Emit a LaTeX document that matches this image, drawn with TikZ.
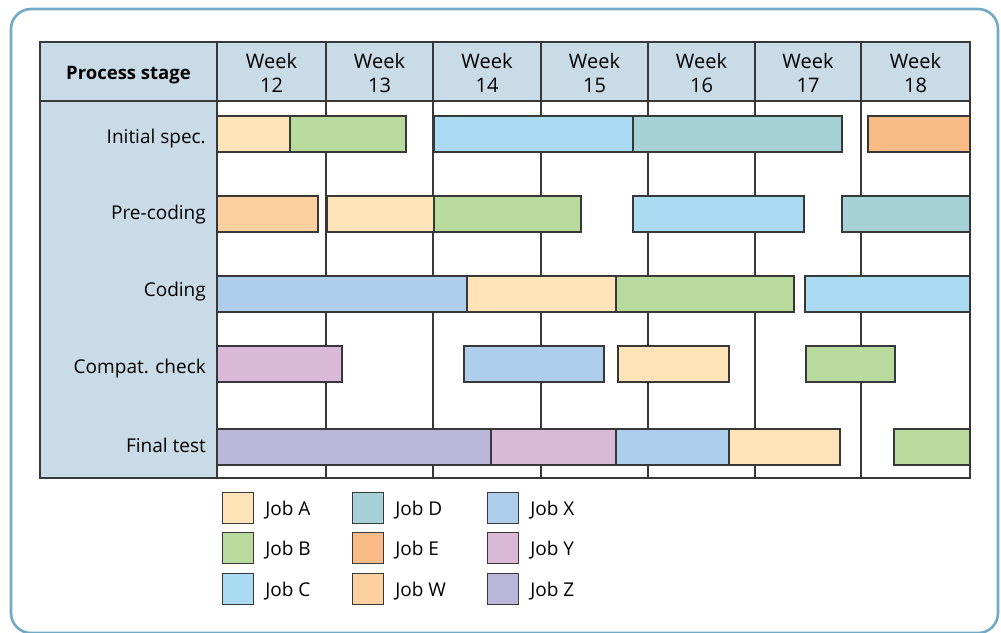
\documentclass[tikz,border=0pt]{standalone}
\usepackage{fontspec}
\setmainfont{Open Sans}
\usetikzlibrary{positioning}

\definecolor{framecol}{HTML}{72A9C4}
\definecolor{headfill}{HTML}{C9DBE6}
\definecolor{linegray}{HTML}{383838}
\definecolor{jobA}{HTML}{FEE3B9}
\definecolor{jobB}{HTML}{B8DB9D}
\definecolor{jobC}{HTML}{ABDAF3}
\definecolor{jobD}{HTML}{A5D1D7}
\definecolor{jobE}{HTML}{F9BB86}
\definecolor{jobW}{HTML}{FDD09F}
\definecolor{jobX}{HTML}{ADCDEB}
\definecolor{jobY}{HTML}{D9B8D8}
\definecolor{jobZ}{HTML}{BAB7DA}

\begin{document}
\begin{tikzpicture}[x=1pt,y=-1pt,
    jobbar/.style={draw=linegray,line width=1.3pt},
    gridline/.style={linegray,line width=1.3pt},
    weekhead/.style={align=center,inner sep=0pt,font=\fontsize{20}{24}\selectfont},
    stagelabel/.style={anchor=east,inner sep=0pt,font=\fontsize{19}{22}\selectfont},
    keybox/.style={draw=linegray,line width=1.3pt,minimum size=31pt,inner sep=0pt},
    keytext/.style={inner sep=0pt,yshift=-2pt,font=\fontsize{19}{22}\selectfont}]
    \useasboundingbox (0,0) rectangle (1001,632);

    % outer frame
    \draw [framecol,line width=2.6pt,rounded corners=20pt] (11,9) rectangle (998,633);

    % header row and stage column
    \fill [headfill] (40,42) rectangle (970,101);
    \fill [headfill] (40,101) rectangle (217,478);

    % week columns
    \foreach \x in {217,326,433,541,648,755,861}
        \draw [gridline] (\x,42) -- (\x,478);
    \draw [gridline] (40,101) -- (970,101);

    % bars: left/right/top/colour
    \foreach \xa/\xb/\ya/\col in {
        217/290/116/jobA, 290/406/116/jobB, 434/633/116/jobC, 633/842/116/jobD, 868/970/116/jobE,
        217/318/196/jobW, 327/434/196/jobA, 434/581/196/jobB, 633/804/196/jobC, 842/970/196/jobD,
        217/467/276/jobX, 467/616/276/jobA, 616/794/276/jobB, 805/970/276/jobC,
        217/342/346/jobY, 464/604/346/jobX, 618/729/346/jobA, 806/895/346/jobB,
        217/491/429/jobZ, 491/616/429/jobY, 616/729/429/jobX, 729/840/429/jobA, 894/970/429/jobB}
        \filldraw [jobbar,fill=\col] (\xa,\ya) rectangle (\xb,{\ya+36});

    % table border
    \draw [gridline] (40,42) rectangle (970,478);

    % header texts
    \node [font=\bfseries\fontsize{18.5}{22}\selectfont] (stagehead) at (128.5,75) {Process stage};
    \node [weekhead] (wk12) at (271.5,73) {Week\\12};
    \node [weekhead] (wk13) at (379.5,73) {Week\\13};
    \node [weekhead] (wk14) at (487,73) {Week\\14};
    \node [weekhead] (wk15) at (594.5,73) {Week\\15};
    \node [weekhead] (wk16) at (701.5,73) {Week\\16};
    \node [weekhead] (wk17) at (808,73) {Week\\17};
    \node [weekhead] (wk18) at (915.5,73) {Week\\18};

    % stage names
    \node [stagelabel] (initspec) at (206,139) {Initial spec.};
    \node [stagelabel] (precode) at (206,215) {Pre-coding};
    \node [stagelabel] (coding) at (206,292) {Coding};
    \node [stagelabel] (compat) at (206,369) {Compat. check};
    \node [stagelabel] (finaltest) at (206,445) {Final test};

    % key
    \node [keybox,fill=jobA] (keyA) at (238,508) {};
    \node [keybox,fill=jobB] (keyB) at (238,548) {};
    \node [keybox,fill=jobC] (keyC) at (238,589) {};
    \node [keybox,fill=jobD] (keyD) at (368,508) {};
    \node [keybox,fill=jobE] (keyE) at (368,548) {};
    \node [keybox,fill=jobW] (keyW) at (368,589) {};
    \node [keybox,fill=jobX] (keyX) at (503,508) {};
    \node [keybox,fill=jobY] (keyY) at (503,548) {};
    \node [keybox,fill=jobZ] (keyZ) at (503,589) {};
    \node [keytext,right=11pt of keyA] (txtA) {Job A};
    \node [keytext,right=11pt of keyB] (txtB) {Job B};
    \node [keytext,right=11pt of keyC] (txtC) {Job C};
    \node [keytext,right=11pt of keyD] (txtD) {Job D};
    \node [keytext,right=11pt of keyE] (txtE) {Job E};
    \node [keytext,right=11pt of keyW] (txtW) {Job W};
    \node [keytext,right=11pt of keyX] (txtX) {Job X};
    \node [keytext,right=11pt of keyY] (txtY) {Job Y};
    \node [keytext,right=11pt of keyZ] (txtZ) {Job Z};
\end{tikzpicture}
\end{document}
